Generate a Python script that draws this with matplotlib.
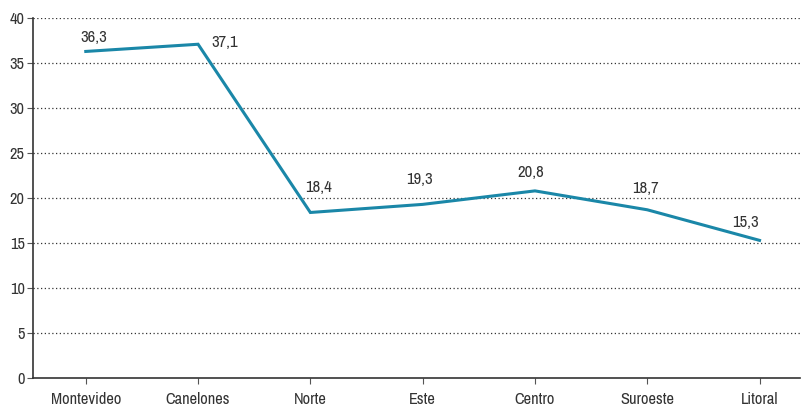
import matplotlib.pyplot as plt

regions = ["Montevideo", "Canelones", "Norte", "Este", "Centro", "Suroeste", "Litoral"]
values = [36.3, 37.1, 18.4, 19.3, 20.8, 18.7, 15.3]
y_ticks = [0, 5, 10, 15, 20, 25, 30, 35, 40]

# label offsets (points): horizontal to text centre, vertical to baseline
label_offsets = [(6, 6.5), (19.5, -2), (6, 15), (-2, 15), (-3, 10), (-1, 12), (-10, 9.5)]

plt.rcParams["font.family"] = ["Archivo Narrow", "DejaVu Sans"]
text_color = "#333333"
line_color = "#1a87a8"

fig = plt.figure(figsize=(8.01, 4.08), dpi=100)
ax = fig.add_axes([0.0412, 0.0735, 0.9575, 0.882])

x = list(range(len(regions)))
ax.plot(x, values, color=line_color, linewidth=2.2, solid_joinstyle="miter")

for xi, v, (dx, dy) in zip(x, values, label_offsets):
    ax.annotate(f"{v:.1f}".replace(".", ","), (xi, v), xytext=(dx, dy),
                textcoords="offset points", ha="center", va="baseline",
                fontsize=12, color=text_color)

ax.set_xlim(-0.47, 6.36)
ax.set_ylim(0, 40)
ax.set_yticks(y_ticks)
ax.set_xticks(x)
ax.set_xticklabels(regions)

for t in y_ticks[1:]:
    ax.axhline(t, color="#333333", linewidth=0.9, linestyle=(0, (1, 2)), zorder=0)

for side in ["top", "right"]:
    ax.spines[side].set_visible(False)
for side in ["left", "bottom"]:
    ax.spines[side].set_color("#333333")
    ax.spines[side].set_linewidth(1.2)

ax.tick_params(axis="both", colors="#555555", labelcolor=text_color, labelsize=11.8, length=4)
ax.tick_params(axis="x", pad=6)
ax.tick_params(axis="y", pad=2)

fig.savefig("out.png", dpi=100)
